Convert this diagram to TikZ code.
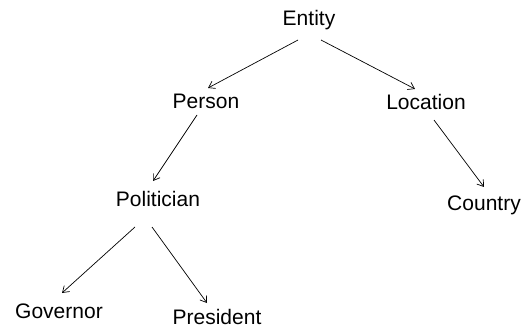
\documentclass[tikz,border=0pt]{standalone}
\usepackage{fontspec}
\setmainfont{Liberation Sans}
\usetikzlibrary{arrows.meta}
\begin{document}
\begin{tikzpicture}[x=1pt,y=-1pt,
  concept/.style={anchor=base,inner sep=0pt,font=\fontsize{21}{25}\selectfont},
  isa/.style={draw=black,line width=0.7pt,-{Straight Barb[length=6pt,width=8pt]}}]
  \useasboundingbox (0,0) rectangle (523,329);
  % concept nodes
  \node[concept] (ent) at (309,26)  {Entity};
  \node[concept] (per) at (206,109) {Person};
  \node[concept] (loc) at (426,110) {Location};
  \node[concept] (pol) at (158,207) {Politician};
  \node[concept] (cty) at (484,211) {Country};
  \node[concept] (gov) at (59,318)  {Governor};
  \node[concept] (pre) at (217,324) {President};
  % is-a links
  \draw[isa] ([shift={(-11,14)}]ent.base) -- ([shift={(2,-21)}]per.base);
  \draw[isa] ([shift={(12,14)}]ent.base) -- ([shift={(-11,-21)}]loc.base);
  \draw[isa] ([shift={(-9,6)}]per.base) -- ([shift={(-5,-26)}]pol.base);
  \draw[isa] ([shift={(8,10)}]loc.base) -- ([shift={(0,-24)}]cty.base);
  \draw[isa] ([shift={(-23,20)}]pol.base) -- ([shift={(3,-25)}]gov.base);
  \draw[isa] ([shift={(-6,20)}]pol.base) -- ([shift={(-10,-21)}]pre.base);
\end{tikzpicture}
\end{document}
